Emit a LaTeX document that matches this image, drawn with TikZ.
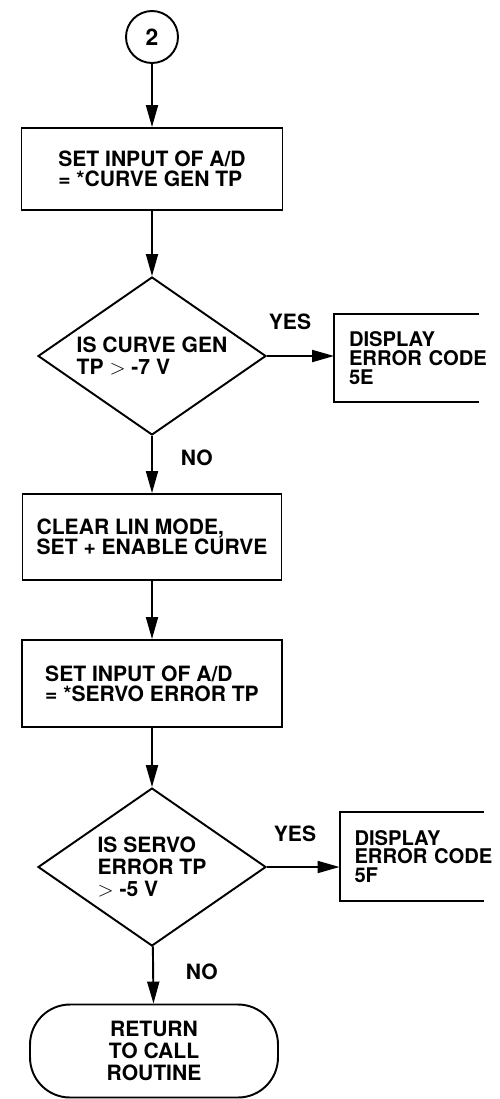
\documentclass[tikz,border=0pt]{standalone}
\usepackage{fontspec}
\setmainfont{TeX Gyre Heros}
\usetikzlibrary{arrows.meta,shapes,positioning}

\newcommand{\flowfont}[2]{\bfseries\fontsize{#1}{#2}\selectfont}

\begin{document}
\begin{tikzpicture}[x=0.02cm, y=-0.02cm, >={Triangle[length=0.44cm,width=0.24cm]},
  line width=1.1pt,
  conn/.style={circle, draw, minimum size=1.04cm, inner sep=0pt,
               font=\flowfont{13}{13}},
  box/.style={draw, align=left, inner sep=0pt, font=\flowfont{12}{11.4}},
  test/.style={diamond, draw, align=left, inner sep=0pt, shape aspect=1.44,
               minimum width=4.56cm, minimum height=3.16cm,
               font=\flowfont{12}{12.6}},
  disp/.style={align=left, text width=2.3cm, inner xsep=0.28cm, inner ysep=0pt,
               minimum height=1.74cm, font=\flowfont{11.5}{10.6}},
  term/.style={draw, align=center, rounded corners=0.8cm, inner sep=0pt,
               minimum width=4.96cm, minimum height=1.86cm,
               font=\flowfont{12}{12.6}},
  lbl/.style={inner sep=0pt, font=\flowfont{12}{12}}]

  \useasboundingbox (0,0) rectangle (500,1099);

  % ---- Main column ----
  \node[conn] (c2) at (152,37) {2};
  \node[box, minimum width=5.22cm, minimum height=1.64cm]
    (set1) at (152,169) {SET INPUT OF A/D\\= *CURVE GEN TP};
  \node[test] (d1) at (152,356) {IS CURVE GEN\\TP $>$ -7 V};
  \node[box, minimum width=5.18cm, minimum height=1.72cm]
    (clr) at (152,537) {CLEAR LIN MODE,\\SET + ENABLE CURVE};
  \node[box, minimum width=5.2cm, minimum height=1.74cm]
    (set2) at (152,683.5) {SET INPUT OF A/D\\= *SERVO ERROR TP};
  \node[test] (d2) at (152,867) {IS SERVO\\ERROR TP\\$>$ -5 V};
  \node[term] (ret) at (154,1051) {RETURN\\TO CALL\\ROUTINE};

  % ---- Error displays (open on the right) ----
  \node[disp] (err1) at (406.5,358) {DISPLAY\\ERROR~CODE\\5E};
  \node[disp] (err2) at (412,856.5) {DISPLAY\\ERROR~CODE\\5F};
  \draw (err1.north east) -- (err1.north west) -- (err1.south west) -- (err1.south east);
  \draw (err2.north east) -- (err2.north west) -- (err2.south west) -- (err2.south east);

  % ---- Flow arrows ----
  \draw[->] (c2) -- (set1);
  \draw[->] (set1) -- (d1);
  \draw[->] (d1) -- (clr);
  \draw[->] (clr) -- (set2);
  \draw[->] (set2) -- (d2);
  \draw[->] (d2) -- (ret);
  \draw[->] (d1.east) -- (d1.east -| err1.west);
  \draw[->] (d2.east) -- (d2.east -| err2.west);

  % ---- Branch labels ----
  \node[lbl, above right=0.5cm and 0.02cm of d1.east] (yes1) {YES};
  \node[lbl, above right=0.48cm and 0.12cm of d2.east] (yes2) {YES};
  \node[lbl, below right=0.26cm and 0.56cm of d1.south] (no1) {NO};
  \node[lbl, below right=0.32cm and 0.66cm of d2.south] (no2) {NO};
\end{tikzpicture}
\end{document}
